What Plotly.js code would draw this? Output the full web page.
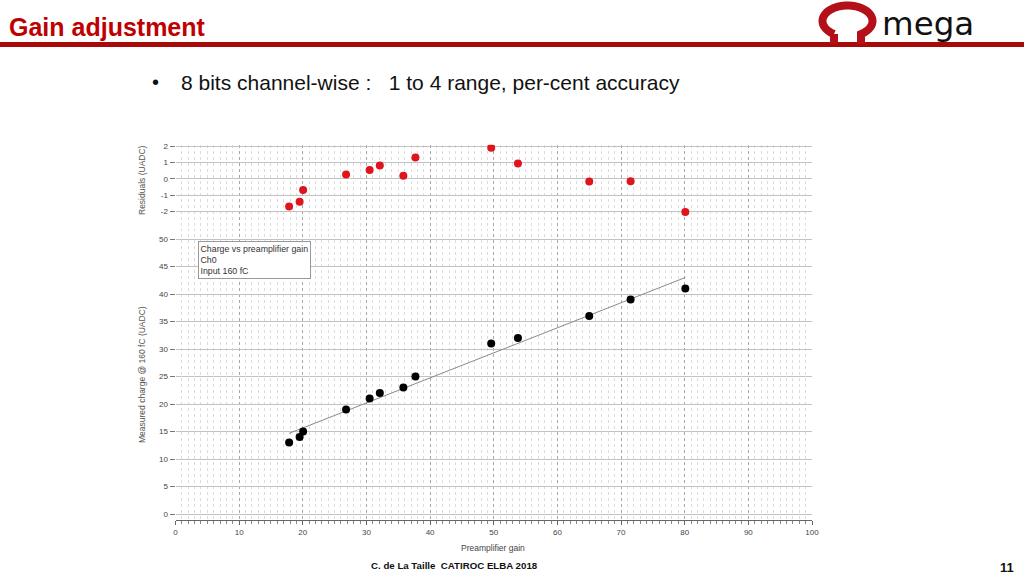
<!DOCTYPE html>
<html><head><meta charset="utf-8">
<script src="https://cdn.plot.ly/plotly-3.0.1.min.js"></script>
<style>html,body{margin:0;padding:0;background:#fff;}#chart{width:1024px;height:576px;}</style>
</head><body><div id="chart"></div>
<script>
// ---- data ----
const preampGain   = [17.85, 19.5, 20.05, 26.8, 30.5, 32.1, 35.8, 37.7, 49.6, 53.8, 65.0, 71.5, 80.1];
const measCharge   = [13, 14, 15, 19, 21, 22, 23, 25, 31, 32, 36, 39, 41];
const residuals    = [-1.69, -1.40, -0.68, 0.27, 0.54, 0.82, 0.19, 1.32, 1.91, 0.95, -0.16, -0.14, -2.04];
const fitX         = [17.85, 80.1];
const fitY         = [14.67, 43.0];
const resTickVals  = [-2, -1, 0, 1, 2];
const resTickText  = ['-2', '-1', '0', '1', '2'];
const chargeTicks  = [0, 5, 10, 15, 20, 25, 30, 35, 40, 45, 50];
const gainTicks    = [0, 10, 20, 30, 40, 50, 60, 70, 80, 90, 100];

const W = 1024, H = 576;
const px = x => x / W;
const py = y => 1 - y / H;
const FONT = 'Liberation Sans, Arial, sans-serif';

// Omega logo outline (decoration) built in pixel space
function omegaPath() {
  const cx = 847.5, cy = 21, rx = 25, ry = 15.5;
  const tStart = Math.PI - Math.acos(0.54);       // bottom-left junction
  const tEnd = Math.acos(0.54) + 2 * Math.PI;     // bottom-right junction (going via top)
  let d = 'M ' + px(834) + ',' + py(44) + ' L ' + px(834) + ',' + py(34);
  const n = 60;
  for (let i = 0; i <= n; i++) {
    const t = tStart + (tEnd - tStart) * i / n;
    const x = cx + rx * Math.cos(t), y = cy + ry * Math.sin(t);
    d += ' L ' + px(x) + ',' + py(y);
  }
  d += ' L ' + px(861) + ',' + py(44);
  return d;
}

const traces = [
  {x: fitX, y: fitY, type: 'scatter', mode: 'lines', xaxis: 'x', yaxis: 'y',
   line: {color: '#8a8a8a', width: 1}, hoverinfo: 'skip'},
  {x: preampGain, y: measCharge, type: 'scatter', mode: 'markers', xaxis: 'x', yaxis: 'y',
   marker: {color: '#000', size: 8}},
  {x: preampGain, y: residuals, type: 'scatter', mode: 'markers', xaxis: 'x2', yaxis: 'y2',
   marker: {color: '#e0141c', size: 8}}
];

const xCommon = {
  range: [0, 100], tickvals: gainTicks, zeroline: false,
  showgrid: true, gridcolor: '#a8a8a8', griddash: 'dot', gridwidth: 1,
  minor: {dtick: 1, tick0: 0, showgrid: true, gridcolor: '#dcdcdc', gridwidth: 1},
  tickfont: {family: FONT, size: 8, color: '#444'}
};

const layout = {
  width: W, height: H, margin: {l: 0, r: 0, t: 0, b: 0},
  paper_bgcolor: '#fff', plot_bgcolor: '#fff', showlegend: false,
  font: {family: FONT},
  xaxis: Object.assign({}, xCommon, {
    domain: [px(175.5), px(812)], anchor: 'y',
    ticks: 'outside', ticklen: 4, tickcolor: '#666', showline: true, linecolor: '#666', linewidth: 1,
    minor: Object.assign({}, xCommon.minor, {ticks: 'outside', ticklen: 3, tickcolor: '#888'})
  }),
  xaxis2: Object.assign({}, xCommon, {
    domain: [px(175.5), px(812)], anchor: 'y2', matches: 'x', showticklabels: false, ticks: ''
  }),
  yaxis: {
    domain: [py(520), py(233.5)], range: [-1.09, 51], tickvals: chargeTicks,
    ticks: 'outside', ticklen: 5, tickcolor: '#777', zeroline: false, showline: false,
    gridcolor: '#c2c2c2', gridwidth: 1,
    tickfont: {family: FONT, size: 8, color: '#444'}
  },
  yaxis2: {
    domain: [py(231), py(144.7)], range: [-3.2, 2.1], tickvals: resTickVals, ticktext: resTickText,
    ticks: 'outside', ticklen: 5, tickcolor: '#777', zeroline: false, showline: false,
    gridcolor: '#c2c2c2', gridwidth: 1,
    tickfont: {family: FONT, size: 8, color: '#444'}
  },
  shapes: [
    // header red rule
    {type: 'rect', xref: 'paper', yref: 'paper', x0: 0, x1: 1, y0: py(47), y1: py(42),
     fillcolor: '#a80a0a', line: {width: 0}, layer: 'above'},
    // Omega glyph
    {type: 'path', xref: 'paper', yref: 'paper', path: omegaPath(),
     line: {color: '#b3101a', width: 8}, fillcolor: 'rgba(0,0,0,0)', layer: 'above'}
  ],
  annotations: [
    {text: '<b>Gain adjustment</b>', xref: 'paper', yref: 'paper', x: px(7), y: py(27),
     xanchor: 'left', yanchor: 'middle', showarrow: false,
     font: {family: FONT, size: 25, color: '#c00000'}},
    {text: 'mega', xref: 'paper', yref: 'paper', x: px(880), y: py(23.5),
     xanchor: 'left', yanchor: 'middle', showarrow: false,
     font: {family: 'DejaVu Sans, sans-serif', size: 32.5, color: '#111'}},
    {text: '•', xref: 'paper', yref: 'paper', x: px(155), y: py(82),
     xanchor: 'center', yanchor: 'middle', showarrow: false,
     font: {family: FONT, size: 20, color: '#111'}},
    {text: '8 bits channel-wise :\u00a0\u00a0\u00a01 to 4 range, per-cent accuracy', xref: 'paper', yref: 'paper',
     x: px(179), y: py(82), xanchor: 'left', yanchor: 'middle', showarrow: false,
     font: {family: FONT, size: 21, color: '#111'}},
    {text: 'Residuals (UADC)', xref: 'paper', yref: 'paper', x: px(142), y: py(180),
     xanchor: 'center', yanchor: 'middle', textangle: -90, showarrow: false,
     font: {family: FONT, size: 8.5, color: '#555'}},
    {text: 'Measured charge @ 160 fC (UADC)', xref: 'paper', yref: 'paper', x: px(142), y: py(375),
     xanchor: 'center', yanchor: 'middle', textangle: -90, showarrow: false,
     font: {family: FONT, size: 8.5, color: '#555'}},
    {text: 'Preamplifier gain', xref: 'paper', yref: 'paper', x: px(493), y: py(548),
     xanchor: 'center', yanchor: 'middle', showarrow: false,
     font: {family: FONT, size: 8.5, color: '#444'}},
    {text: 'Charge vs preamplifier gain<br>Ch0<br>Input 160 fC', xref: 'paper', yref: 'paper',
     x: px(197.5), y: py(240.5), xanchor: 'left', yanchor: 'top', align: 'left', showarrow: false,
     bgcolor: '#fff', bordercolor: '#999', borderwidth: 1, borderpad: 1.5,
     font: {family: FONT, size: 8.8, color: '#333'}},
    {text: '<b>C. de La Taille\u00a0\u00a0CATIROC ELBA 2018</b>', xref: 'paper', yref: 'paper',
     x: px(454), y: py(565), xanchor: 'center', yanchor: 'middle', showarrow: false,
     font: {family: FONT, size: 9.7, color: '#111'}},
    {text: '<b>11</b>', xref: 'paper', yref: 'paper', x: px(1016), y: py(567),
     xanchor: 'right', yanchor: 'middle', showarrow: false,
     font: {family: FONT, size: 13, color: '#111'}}
  ]
};

Plotly.newPlot('chart', traces, layout, {displayModeBar: false, staticPlot: true});
</script></body></html>
